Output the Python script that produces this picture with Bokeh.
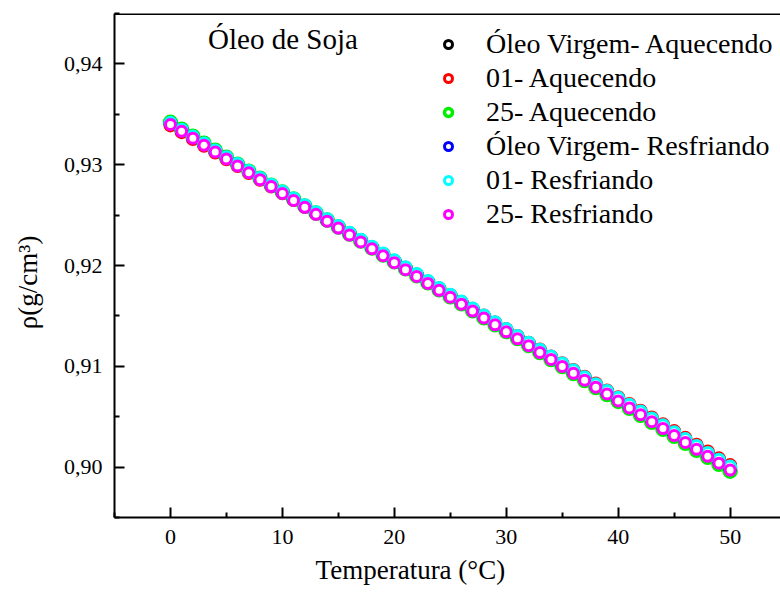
import math
from bokeh.plotting import figure
from bokeh.models import (Range1d, FixedTicker, CustomJSTickFormatter, Legend, LegendItem,
                          Label, Span)
from bokeh.embed import file_html
from bokeh.resources import INLINE

temperatura = [0, 1, 2, 3, 4, 5, 6, 7, 8, 9, 10, 11, 12, 13, 14, 15, 16, 17, 18, 19, 20,
               21, 22, 23, 24, 25, 26, 27, 28, 29, 30, 31, 32, 33, 34, 35, 36, 37, 38, 39, 40,
               41, 42, 43, 44, 45, 46, 47, 48, 49, 50]

virgem_aquecendo = [0.93410, 0.93342, 0.93274, 0.93205, 0.93137, 0.93069, 0.93001, 0.92933, 0.92864, 0.92796,
                    0.92728, 0.92660, 0.92592, 0.92523, 0.92455, 0.92387, 0.92319, 0.92251, 0.92182, 0.92114,
                    0.92046, 0.91978, 0.91910, 0.91841, 0.91773, 0.91705, 0.91637, 0.91569, 0.91500, 0.91432,
                    0.91364, 0.91296, 0.91228, 0.91159, 0.91091, 0.91023, 0.90955, 0.90887, 0.90818, 0.90750,
                    0.90682, 0.90614, 0.90546, 0.90477, 0.90409, 0.90341, 0.90273, 0.90205, 0.90136, 0.90068,
                    0.90000]
a01_aquecendo = [0.93390, 0.93323, 0.93255, 0.93188, 0.93120, 0.93053, 0.92986, 0.92918, 0.92851, 0.92783,
                 0.92716, 0.92649, 0.92581, 0.92514, 0.92446, 0.92379, 0.92312, 0.92244, 0.92177, 0.92109,
                 0.92042, 0.91975, 0.91907, 0.91840, 0.91772, 0.91705, 0.91638, 0.91570, 0.91503, 0.91435,
                 0.91368, 0.91301, 0.91233, 0.91166, 0.91098, 0.91031, 0.90964, 0.90896, 0.90829, 0.90761,
                 0.90694, 0.90627, 0.90559, 0.90492, 0.90424, 0.90357, 0.90290, 0.90222, 0.90155, 0.90087,
                 0.90020]
a25_aquecendo = [0.93420, 0.93351, 0.93282, 0.93212, 0.93143, 0.93074, 0.93005, 0.92936, 0.92866, 0.92797,
                 0.92728, 0.92659, 0.92590, 0.92520, 0.92451, 0.92382, 0.92313, 0.92244, 0.92174, 0.92105,
                 0.92036, 0.91967, 0.91898, 0.91828, 0.91759, 0.91690, 0.91621, 0.91552, 0.91482, 0.91413,
                 0.91344, 0.91275, 0.91206, 0.91136, 0.91067, 0.90998, 0.90929, 0.90860, 0.90790, 0.90721,
                 0.90652, 0.90583, 0.90514, 0.90444, 0.90375, 0.90306, 0.90237, 0.90168, 0.90098, 0.90029,
                 0.89960]
virgem_resfriando = [0.93410, 0.93342, 0.93273, 0.93205, 0.93136, 0.93068, 0.93000, 0.92931, 0.92863, 0.92794,
                     0.92726, 0.92658, 0.92589, 0.92521, 0.92452, 0.92384, 0.92316, 0.92247, 0.92179, 0.92110,
                     0.92042, 0.91974, 0.91905, 0.91837, 0.91768, 0.91700, 0.91632, 0.91563, 0.91495, 0.91426,
                     0.91358, 0.91290, 0.91221, 0.91153, 0.91084, 0.91016, 0.90948, 0.90879, 0.90811, 0.90742,
                     0.90674, 0.90606, 0.90537, 0.90469, 0.90400, 0.90332, 0.90264, 0.90195, 0.90127, 0.90058,
                     0.89990]
r01_resfriando = [0.93415, 0.93347, 0.93279, 0.93210, 0.93142, 0.93074, 0.93006, 0.92938, 0.92869, 0.92801,
                  0.92733, 0.92665, 0.92597, 0.92528, 0.92460, 0.92392, 0.92324, 0.92256, 0.92187, 0.92119,
                  0.92051, 0.91983, 0.91915, 0.91846, 0.91778, 0.91710, 0.91642, 0.91574, 0.91505, 0.91437,
                  0.91369, 0.91301, 0.91233, 0.91164, 0.91096, 0.91028, 0.90960, 0.90892, 0.90823, 0.90755,
                  0.90687, 0.90619, 0.90551, 0.90482, 0.90414, 0.90346, 0.90278, 0.90210, 0.90141, 0.90073,
                  0.90005]
r25_resfriando = [0.93400, 0.93331, 0.93263, 0.93194, 0.93126, 0.93057, 0.92988, 0.92920, 0.92851, 0.92783,
                  0.92714, 0.92645, 0.92577, 0.92508, 0.92440, 0.92371, 0.92302, 0.92234, 0.92165, 0.92097,
                  0.92028, 0.91959, 0.91891, 0.91822, 0.91754, 0.91685, 0.91616, 0.91548, 0.91479, 0.91411,
                  0.91342, 0.91273, 0.91205, 0.91136, 0.91068, 0.90999, 0.90930, 0.90862, 0.90793, 0.90725,
                  0.90656, 0.90587, 0.90519, 0.90450, 0.90382, 0.90313, 0.90244, 0.90176, 0.90107, 0.90039,
                  0.89970]

series_names = ["Óleo Virgem- Aquecendo", "01- Aquecendo", "25- Aquecendo",
                "Óleo Virgem- Resfriando", "01- Resfriando", "25- Resfriando"]
series_values = [virgem_aquecendo, a01_aquecendo, a25_aquecendo,
                 virgem_resfriando, r01_resfriando, r25_resfriando]
series_colors = ["#000000", "#ff0000", "#00ee00", "#0000ff", "#00ffff", "#ff00ff"]
series_sizes = [11, 11, 12, 11, 11, 10]
series_widths = [3, 3, 3.5, 3, 3, 3]

x_ticks = [0, 10, 20, 30, 40, 50]
x_minor = [-5, 5, 15, 25, 35, 45, 55]
y_ticks = [0.90, 0.91, 0.92, 0.93, 0.94]
y_minor = [0.895, 0.905, 0.915, 0.925, 0.935, 0.945]

x_title = "Temperatura (°C)"
y_title = "ρ(g/cm³)"
chart_title = "Óleo de Soja"

FONT = "Liberation Serif"
NBSP = "\u00a0"

p = figure(width=780, height=592, output_backend="svg", toolbar_location=None,
           x_range=Range1d(-5, 54.5), y_range=Range1d(0.895, 0.945),
           min_border_left=114, min_border_right=0, min_border_top=13, min_border_bottom=75)
p.background_fill_color = "white"
p.border_fill_color = "white"
p.outline_line_color = None
p.grid.visible = False

for ax in (p.xaxis[0], p.yaxis[0]):
    ax.axis_line_width = 2
    ax.axis_line_color = "black"
    ax.major_tick_line_width = 2
    ax.minor_tick_line_width = 2
    ax.major_tick_in = 10
    ax.major_tick_out = 0
    ax.minor_tick_in = 5
    ax.minor_tick_out = 0
    ax.major_label_text_font = FONT
    ax.major_label_text_font_size = "22px"
    ax.major_label_text_color = "black"
    ax.major_label_standoff = 12
    ax.axis_label_text_font = FONT
    ax.axis_label_text_font_size = "27px"
    ax.axis_label_text_font_style = "normal"
    ax.axis_label_text_color = "black"

p.xaxis[0].ticker = FixedTicker(ticks=x_ticks, minor_ticks=x_minor)
p.yaxis[0].ticker = FixedTicker(ticks=y_ticks, minor_ticks=y_minor)
p.yaxis[0].formatter = CustomJSTickFormatter(code="return tick.toFixed(2).replace('.', ',');")

p.xaxis[0].axis_label = x_title + NBSP * 11
p.xaxis[0].axis_label_standoff = 8
p.yaxis[0].axis_label = y_title + NBSP * 5
p.yaxis[0].axis_label_standoff = 18

p.add_layout(Span(location=0.945, dimension="width", line_color="black", line_width=3))

items = []
for name, vals, col, sz, lw in zip(series_names, series_values, series_colors, series_sizes, series_widths):
    r = p.scatter(temperatura, vals, marker="circle", size=sz, line_color=col, line_width=lw,
                  fill_color="white")
    items.append(LegendItem(label=name, renderers=[r]))

legend = Legend(items=items, location=(324, 287), border_line_color=None,
                background_fill_alpha=0, padding=0, margin=0, spacing=2,
                glyph_width=20, glyph_height=20, label_height=20, label_standoff=28,
                label_text_font=FONT, label_text_font_size="28px", label_text_color="black")
p.add_layout(legend)

p.add_layout(Label(x=3.36, y=0.94245, text=chart_title, text_font=FONT,
                   text_font_size="29px", text_align="left", text_baseline="alphabetic",
                   text_color="black"))

open("out.html", "w").write(file_html(p, INLINE))
